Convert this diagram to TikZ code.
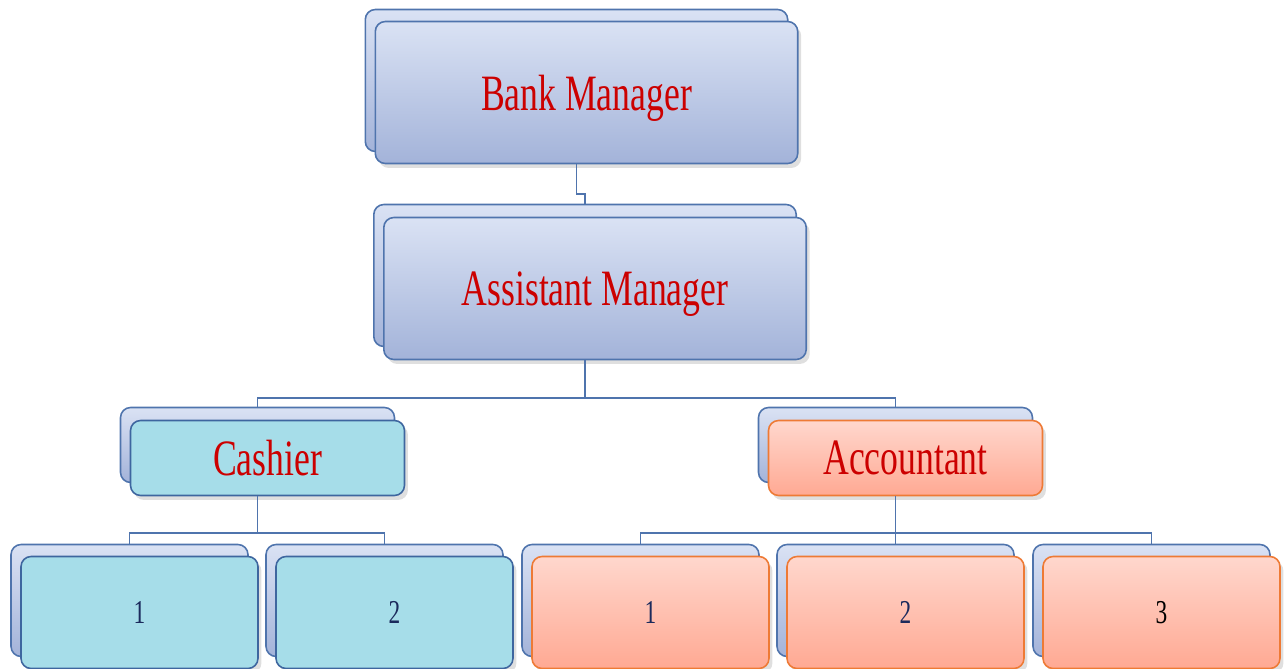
\documentclass[tikz,border=0pt]{standalone}
\usepackage{fontspec}
\setmainfont{Liberation Serif}[FakeStretch=0.7]
\usepackage{tikz}
\usetikzlibrary{shadows}

\definecolor{lineblue}{HTML}{4F74AD}
\definecolor{backtop}{HTML}{DAE2F4}
\definecolor{backbot}{HTML}{A3B3D9}
\definecolor{cashfill}{HTML}{A6DDE9}
\definecolor{cashline}{HTML}{3E669F}
\definecolor{acctop}{HTML}{FFD7CD}
\definecolor{accbot}{HTML}{FFA993}
\definecolor{accline}{HTML}{EE7A35}
\definecolor{titlered}{HTML}{CC0000}
\definecolor{numblue}{HTML}{1B2A5C}

\tikzset{
	box/.style={rounded corners=0.2cm, line width=0.9pt, inner sep=0pt},
	backbox/.style={box, draw=lineblue, top color=backtop, bottom color=backbot},
	shade/.style={drop shadow={shadow xshift=0.07cm, shadow yshift=-0.09cm, opacity=0.25}},
	bluebox/.style={backbox, shade},
	cashbox/.style={box, shade, draw=cashline, fill=cashfill},
	accbox/.style={box, shade, draw=accline, top color=acctop, bottom color=accbot},
	title/.style={text=titlered, text depth=0pt, font=\fontsize{29}{30}\selectfont},
	number/.style={text=numblue, font=\fontsize{19}{20}\selectfont},
	link/.style={draw=lineblue, line width=0.9pt},
	big/.style={minimum width=8.45cm, minimum height=2.84cm},
	mid/.style={minimum width=5.48cm, minimum height=1.5cm},
	small/.style={minimum width=4.74cm, minimum height=2.24cm}
}

\begin{document}
\begin{tikzpicture}[x=0.02cm, y=-0.02cm]
	\useasboundingbox (0,0) rectangle (1288,669);
	\node [backbox, big] (BankBack) at (576.5,80.5) {};
	\node [bluebox, big, title] (Bank) at ([shift={(10,12)}]BankBack.center) {Bank Manager};
	\node [backbox, big] (AssistBack) at (585,275.5) {};
	\node [bluebox, big, title] (Assist) at ([shift={(10,13)}]AssistBack.center) {Assistant Manager};
	\node [backbox, mid] (CashBack) at (257.5,445) {};
	\node [cashbox, mid, title] (Cash) at ([shift={(10,13)}]CashBack.center) {Cashier};
	\node [backbox, mid] (AccBack) at (895.5,445) {};
	\node [accbox, mid, title] (Acc) at ([shift={(10,13)}]AccBack.center) {Accountant};
	\node [backbox, small] (CashOneBack) at (129.5,600.5) {};
	\node [cashbox, small, number] (CashOne) at ([shift={(10,12)}]CashOneBack.center) {1};
	\node [backbox, small] (CashTwoBack) at (384.5,600.5) {};
	\node [cashbox, small, number] (CashTwo) at ([shift={(10,12)}]CashTwoBack.center) {2};
	\node [backbox, small] (AccOneBack) at (640.5,600.5) {};
	\node [accbox, small, number] (AccOne) at ([shift={(10,12)}]AccOneBack.center) {1};
	\node [backbox, small] (AccTwoBack) at (895.5,600.5) {};
	\node [accbox, small, number] (AccTwo) at ([shift={(10,12)}]AccTwoBack.center) {2};
	\node [backbox, small] (AccThreeBack) at (1151.5,600.5) {};
	\node [accbox, small, number, text=black] (AccThree) at ([shift={(10,12)}]AccThreeBack.center) {3};
	\draw [link] (BankBack.south |- Bank.south) -- ++(0,30) -| (AssistBack.north);
	\draw [link] (AssistBack.south |- Assist.south) -- ++(0,38) coordinate (AssistJoin);
	\draw [link] (AssistJoin) -| (CashBack.north);
	\draw [link] (AssistJoin) -| (AccBack.north);
	\draw [link] (CashBack.south |- Cash.south) -- ++(0,37) coordinate (CashJoin);
	\draw [link] (CashJoin) -| (CashOneBack.north);
	\draw [link] (CashJoin) -| (CashTwoBack.north);
	\draw [link] (AccBack.south |- Acc.south) -- ++(0,37) coordinate (AccJoin);
	\draw [link] (AccJoin) -| (AccOneBack.north);
	\draw [link] (AccJoin) -- (AccTwoBack.north);
	\draw [link] (AccJoin) -| (AccThreeBack.north);
\end{tikzpicture}
\end{document}
